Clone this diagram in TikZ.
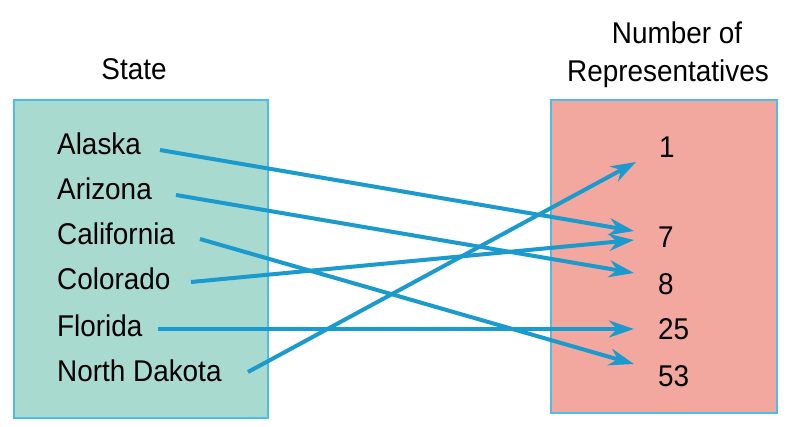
\documentclass[tikz,border=0pt]{standalone}
\usepackage{fontspec}
\setmainfont{Liberation Sans}
\usetikzlibrary{arrows.meta}
\definecolor{arrowblue}{HTML}{1A9ACD}
\definecolor{boxedge}{HTML}{4DBDE6}
\definecolor{leftfill}{HTML}{A9DAD0}
\definecolor{rightfill}{HTML}{F3A89F}
\begin{document}
\begin{tikzpicture}[x=1pt,y=-1pt,
  lbl/.style={anchor=base west,inner sep=0pt,xscale=0.93,font=\fontsize{30}{32}\selectfont},
  hdr/.style={anchor=base,inner sep=0pt,xscale=0.93,font=\fontsize{30}{32}\selectfont},
  setbox/.style={draw=boxedge,line width=2pt},
  conn/.style={draw=arrowblue,line width=4pt,-{Stealth[length=25pt,width=17pt,inset=8pt]}}]
\useasboundingbox (0,0) rectangle (798,427);
\fill[white] (0,0) rectangle (798,427);
% boxes
\path[setbox,fill=leftfill] (14,100) rectangle (268,418);
\path[setbox,fill=rightfill] (551,100) rectangle (777,413);
% headers
\node[hdr] (hstate) at (134,80) {State};
\node[hdr] (hnum1) at (677,44) {Number of};
\node[hdr] (hnum2) at (668,82) {Representatives};
% states
\node[lbl] (ak) at (57,155) {Alaska};
\node[lbl] (az) at (57,200) {Arizona};
\node[lbl] (ca) at (57,245) {California};
\node[lbl] (co) at (57,290) {Colorado};
\node[lbl] (fl) at (57,337) {Florida};
\node[lbl] (nd) at (57,382) {North Dakota};
% numbers
\node[lbl] (n1) at (659,158) {1};
\node[lbl] (n7) at (658,248) {7};
\node[lbl] (n8) at (658,295) {8};
\node[lbl] (n25) at (658,340) {25};
\node[lbl] (n53) at (658,387) {53};
% connector ends
\coordinate (sak) at (160,150);
\coordinate (saz) at (176,195);
\coordinate (sca) at (200,239);
\coordinate (sco) at (191,282);
\coordinate (sfl) at (158,329);
\coordinate (snd) at (248,372);
\coordinate (t1) at (636,162);
\coordinate (t7a) at (634,231);
\coordinate (t7b) at (634,240);
\coordinate (t8) at (634,273);
\coordinate (t25) at (634,329);
\coordinate (t53) at (634,364);
\draw[conn] (sak) -- (t7a);
\draw[conn] (saz) -- (t8);
\draw[conn] (sca) -- (t53);
\draw[conn] (sco) -- (t7b);
\draw[conn] (sfl) -- (t25);
\draw[conn] (snd) -- (t1);
\end{tikzpicture}
\end{document}
